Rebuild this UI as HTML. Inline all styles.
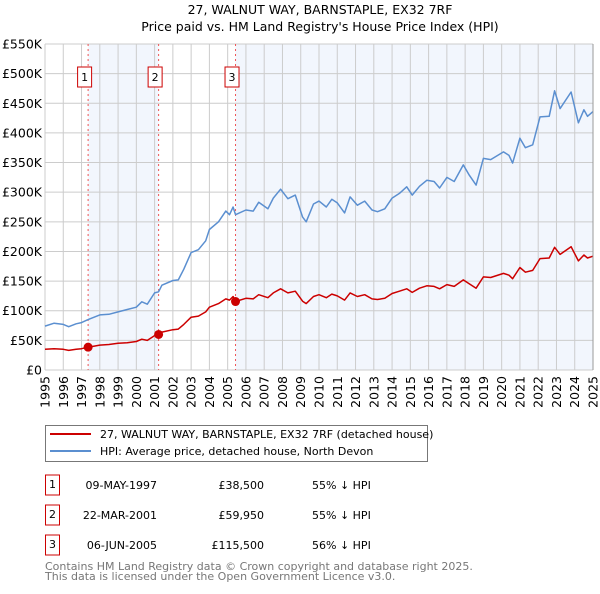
<!DOCTYPE html>
<html><head><meta charset="utf-8"><style>
body{margin:0;background:#fff;font-family:"DejaVu Sans","Liberation Sans",sans-serif;}
svg text{font-family:"DejaVu Sans","Liberation Sans",sans-serif;}
</style></head><body>
<svg id="c" width="600" height="590" xmlns="http://www.w3.org/2000/svg">
<text x="320" y="14" text-anchor="middle" font-size="12.5">27, WALNUT WAY, BARNSTAPLE, EX32 7RF</text>
<text x="320" y="31" text-anchor="middle" font-size="12.5">Price paid vs. HM Land Registry's House Price Index (HPI)</text>
<g id="plot"></g>
<g>
<rect x="45.5" y="425.5" width="382" height="36" fill="#fff" stroke="#777"/>
<line x1="50" y1="434" x2="91" y2="434" stroke="#cc0000" stroke-width="2"/>
<text x="100" y="438" font-size="11">27, WALNUT WAY, BARNSTAPLE, EX32 7RF (detached house)</text>
<line x1="50" y1="451" x2="91" y2="451" stroke="#5b8fd0" stroke-width="2"/>
<text x="100" y="455" font-size="11">HPI: Average price, detached house, North Devon</text>
</g>
<g id="table" font-size="11"></g>
<text x="45" y="570" font-size="11" fill="#777">Contains HM Land Registry data © Crown copyright and database right 2025.</text>
<text x="45" y="580" font-size="11" fill="#777">This data is licensed under the Open Government Licence v3.0.</text>
</svg>
<script>
const years=[1995.0,1995.5,1996.0,1996.3,1996.7,1997.0,1997.36,1998.0,1998.5,1999.0,1999.5,2000.0,2000.3,2000.6,2001.0,2001.22,2001.4,2002.0,2002.3,2002.6,2003.0,2003.4,2003.8,2004.0,2004.5,2004.9,2005.1,2005.3,2005.43,2006.0,2006.4,2006.7,2007.2,2007.5,2007.9,2008.3,2008.7,2009.1,2009.3,2009.7,2010.0,2010.4,2010.7,2011.0,2011.4,2011.7,2012.1,2012.5,2012.9,2013.2,2013.6,2014.0,2014.4,2014.8,2015.1,2015.5,2015.9,2016.3,2016.6,2017.0,2017.4,2017.9,2018.2,2018.6,2019.0,2019.4,2020.1,2020.4,2020.6,2021.0,2021.3,2021.7,2022.1,2022.6,2022.9,2023.2,2023.8,2024.2,2024.5,2024.7,2025.0];
const hpiValues=[74,79,77,73,78,80,85,93,94,98,102,106,115,111,130,132,143,151,152,170,198,203,218,237,250,268,262,275,262,270,268,283,272,290,305,289,295,258,250,280,285,275,288,282,265,292,278,285,270,267,272,290,298,309,295,310,320,318,307,325,318,346,330,312,357,355,368,362,349,391,375,380,427,428,471,441,469,417,439,428,436];
const paidValues=[35,36,35,33,35,36,38.5,42,43,45,46,48,52,50,58,60,64,68,69,77,89,91,98,106,112,120,118,124,115.5,121,120,127,122,130,137,130,133,116,112,124,127,122,128,125,118,130,124,127,120,119,121,129,133,137,131,138,142,141,137,144,141,152,146,138,157,156,163,160,154,173,165,168,188,189,207,195,208,184,194,189,192];
const yTicks=[0,50,100,150,200,250,300,350,400,450,500,550];
const yTickLabels=["£0","£50K","£100K","£150K","£200K","£250K","£300K","£350K","£400K","£450K","£500K","£550K"];
const xTicks=[1995,1996,1997,1998,1999,2000,2001,2002,2003,2004,2005,2006,2007,2008,2009,2010,2011,2012,2013,2014,2015,2016,2017,2018,2019,2020,2021,2022,2023,2024,2025];
const saleYears=[1997.36,2001.22,2005.43];
const salePrices=[38.5,59.95,115.5];
const saleLabels=["1","2","3"];
const saleDates=["09-MAY-1997","22-MAR-2001","06-JUN-2005"];
const salePriceText=["£38,500","£59,950","£115,500"];
const saleHpiText=["55% ↓ HPI","55% ↓ HPI","56% ↓ HPI"];

const L=45,R=593,T=44,B=370;
const X=v=>L+(v-1995)/30*(R-L);
const Y=v=>B-v/550*(B-T);
const NS="http://www.w3.org/2000/svg";
const g=document.getElementById('plot');
function mk(tag,attrs,parent){const e=document.createElementNS(NS,tag);for(const k in attrs)e.setAttribute(k,attrs[k]);(parent||g).appendChild(e);return e;}
// shading
let s1=mk('rect',{x:X(saleYears[0]),y:T,width:X(saleYears[1])-X(saleYears[0]),height:B-T,fill:'#f2f6fd'});


let s2=mk('rect',{x:X(saleYears[2]),y:T,width:R-X(saleYears[2]),height:B-T,fill:'#f2f6fd'});


// grid
xTicks.forEach((t,i)=>{
  let l=mk('line',{x1:X(t),x2:X(t),y1:T,y2:B,stroke:'#cccccc','stroke-width':1});
  
  
  let tx=mk('text',{x:0,y:0,'font-size':12.5,'text-anchor':'end',transform:`translate(${X(t)+4.5},${B+6}) rotate(-90)`});
  tx.textContent=t;
  
  
});
yTicks.forEach((t,i)=>{
  let l=mk('line',{x1:L,x2:R,y1:Y(t),y2:Y(t),stroke:'#cccccc','stroke-width':1});
  
  
  let tx=mk('text',{x:L-3,y:Y(t)+4.5,'font-size':12.5,'text-anchor':'end'});
  tx.textContent=yTickLabels[i];
  
  
});
// sale vlines
saleYears.forEach((s,i)=>{
  let l=mk('line',{x1:X(s),x2:X(s),y1:T,y2:B,stroke:'#ee5555','stroke-width':1,'stroke-dasharray':'2,3'});
  
  
});
function path(vals,color,name){
  let d=years.map((yr,i)=>(i?'L':'M')+X(yr).toFixed(1)+','+Y(vals[i]).toFixed(1)).join('');
  let p=mk('path',{d:d,fill:'none',stroke:color,'stroke-width':1.5,'stroke-linejoin':'round'});
  
  
}
path(hpiValues,'#5b8fd0','hpi-line');
path(paidValues,'#cc0000','property-price-line');
saleYears.forEach((s,i)=>{
  let c=mk('circle',{cx:X(s),cy:Y(salePrices[i]),r:4.5,fill:'#cc0000'});
  
  
  let b=mk('rect',{x:X(s)-10.5,y:67,width:14,height:20,fill:'#fff',stroke:'#cc0000'});
  
  
  let t=mk('text',{x:X(s)-3.5,y:81,'font-size':11,'text-anchor':'middle'});
  t.textContent=saleLabels[i];
  
  
});
let ax=mk('line',{x1:R,x2:R,y1:T,y2:B,stroke:'#999'});


// table
const tb=document.getElementById('table');
saleLabels.forEach((lab,i)=>{
  const cy=485+i*30;
  let b=mk('rect',{x:45.5,y:cy-10,width:14,height:20,fill:'#fff',stroke:'#cc0000'},tb);
  
  
  let t=mk('text',{x:52.5,y:cy+3,'text-anchor':'middle'},tb);t.textContent=lab;
  
  
  let d=mk('text',{x:157,y:cy+4,'text-anchor':'end'},tb);d.textContent=saleDates[i];
  
  
  let p=mk('text',{x:264,y:cy+4,'text-anchor':'end'},tb);p.textContent=salePriceText[i];
  
  
  let h=mk('text',{x:312,y:cy+4},tb);h.textContent=saleHpiText[i];
  
  
});
</script>
</body></html>
